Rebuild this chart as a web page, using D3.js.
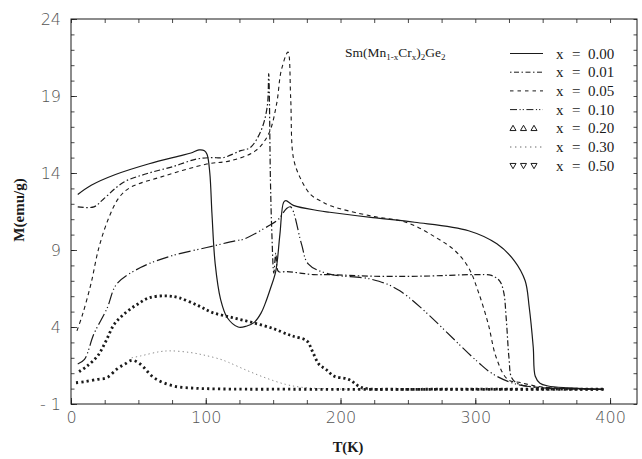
<!DOCTYPE html>
<html>
<head>
<meta charset="utf-8">
<script src="https://cdn.jsdelivr.net/npm/d3@7"></script>
<style>
  html, body { margin: 0; padding: 0; background: #fff; }
  svg { display: block; }
</style>
</head>
<body>
<svg id="chart" width="642" height="459"></svg>
<script>
// ---- Data: T in K, M in emu/g ----
const compositions = ["0.00", "0.01", "0.05", "0.10", "0.20", "0.30", "0.50"];

const t000 = [5, 15, 33, 58, 80, 89, 95, 99, 101, 103, 104.6, 107, 111, 116, 124, 130, 136, 141, 144, 148, 152, 155, 157.8, 159.5, 165, 184, 192, 224, 255, 295, 316, 329, 337, 340, 343, 344.5, 348, 354, 369, 395];
const m000 = [12.6, 13.2, 13.9, 14.6, 15.1, 15.3, 15.5, 15.45, 15.2, 14, 11.35, 8.1, 5.8, 4.6, 4.0, 4.05, 4.3, 4.9, 5.5, 6.5, 7.65, 10, 12.1, 12.2, 11.9, 11.55, 11.45, 11.1, 10.8, 10.25, 9.4, 8.3, 7.0, 5.3, 2.7, 0.8, 0.35, 0.17, 0.05, -0.05];

const t001 = [5, 17, 24, 39, 56, 75, 93, 104, 113, 126, 133, 141, 145.6, 146.7, 148, 149, 150.5, 152, 154, 160, 170, 180, 192, 223, 260, 300, 312, 318, 321, 323, 325, 327, 332, 345, 370, 395];
const m001 = [11.8, 11.8, 12.3, 13.4, 13.95, 14.4, 14.9, 15.0, 15.0, 15.45, 15.65, 16.75, 18.3, 20.45, 13.5, 10.2, 7.5, 8.8, 7.6, 7.6, 7.5, 7.4, 7.4, 7.3, 7.3, 7.4, 7.35, 7.0, 6.3, 4.5, 2.0, 0.7, 0.3, 0.1, 0, -0.05];

const t005 = [4.4, 8.7, 14.8, 20.7, 28.1, 35.6, 44, 69, 100.7, 118.5, 137, 146.7, 152.6, 156, 161, 163, 165, 170, 177.8, 185, 192.6, 223, 249, 271, 285, 295, 302, 309.6, 315.6, 324, 334, 350, 395];
const m005 = [3.75, 4.85, 6.8, 9.16, 11.1, 12.4, 13.06, 13.8, 14.58, 14.8, 15.45, 16.55, 18.5, 20.65, 21.85, 18.9, 15, 13.7, 12.6, 12.2, 11.87, 11.2, 10.79, 9.8, 8.95, 7.86, 6.35, 4.2, 2.0, 0.6, 0.38, 0.1, -0.05];

const t010 = [5, 10, 17, 26.7, 34, 51.6, 73.8, 100.7, 122, 128, 146.7, 154, 160, 163, 171, 176, 191, 223, 244, 301, 313, 330, 350, 395];
const m010 = [1.6, 1.9, 3.55, 5.2, 6.8, 7.86, 8.6, 9.16, 9.6, 9.7, 10.57, 11.0, 11.7, 11.8, 9.4, 8.1, 7.45, 7.1, 6.35, 1.8, 0.95, 0.3, 0.05, -0.05];

const t020 = [6, 12, 19.7, 26, 32.1, 40.7, 49.4, 58, 70.4, 80, 94.8, 104.9, 119.7, 134.6, 150, 160.5, 165, 175, 179, 184, 189, 195, 206, 216, 240, 270, 300, 340, 370, 396];
const m020 = [1.1, 1.47, 2.12, 3.1, 4.18, 4.94, 5.48, 5.9, 6.02, 5.9, 5.37, 4.94, 4.61, 4.29, 3.9, 3.53, 3.4, 3.1, 2.45, 1.58, 1.26, 0.82, 0.6, 0.06, -0.04, -0.04, -0.04, -0.04, -0.04, -0.04];

const t030 = [45, 51.6, 66, 74, 88.7, 100, 111, 117, 130, 144, 159, 170, 185, 220];
const m030 = [2.0, 2.12, 2.4, 2.45, 2.34, 2.15, 1.9, 1.7, 1.2, 0.71, 0.28, 0.1, 0.0, -0.05];

const t050 = [3.7, 10, 19.5, 26.6, 34, 40, 45.4, 51.6, 61.5, 76, 93, 110, 130, 160, 200, 250, 300, 350, 396];
const m050 = [0.38, 0.45, 0.6, 0.71, 1.26, 1.6, 1.84, 1.58, 0.71, 0.17, 0.02, -0.02, -0.04, -0.04, -0.05, -0.05, -0.05, -0.05, -0.05];

const xTickLabels = [0, 100, 200, 300, 400];
const yTickLabels = [-1, 4, 9, 14, 19, 24];

const seriesT = [t000, t001, t005, t010, t020, t030, t050];
const seriesM = [m000, m001, m005, m010, m020, m030, m050];

// ---- Styles ----
const ink = "#1a1a1a";
const styles = [
  { dash: null,                 legendDash: null,                 w: 1.2, color: ink },
  { dash: "6 2.5 1.5 2.5",      legendDash: "1.5 2.5 5 2.5",      w: 1.2, color: ink },
  { dash: "4 3.5",              legendDash: "3.5 4",              w: 1.1, color: ink },
  { dash: "12 3 1.2 2.5 1.2 3", legendDash: "7 2.5 1.2 2 1.2 2.5", w: 1.2, color: ink },
  { dash: "2.2 2.8",            legendDash: null, marker: "up",   w: 2.8, color: ink },
  { dash: "1.3 3",              legendDash: "1.4 3.6",            w: 1.0, color: "#8a8a8a" },
  { dash: "2.2 3.2",            legendDash: null, marker: "down", w: 2.8, color: ink }
];

// ---- Chart ----
const svg = d3.select("#chart");
const plot = { left: 71, right: 637, top: 19, bottom: 404 };

const x = d3.scaleLinear().domain([0, 420]).range([plot.left, plot.right]);
const y = d3.scaleLinear().domain([-1, 24]).range([plot.bottom, plot.top]);

const tickFont = "'DejaVu Sans', sans-serif";
const serif = "'Liberation Serif', 'Times New Roman', serif";

function noDomain(g) { g.select(".domain").remove(); }

// minor ticks (all four sides, pointing inward)
svg.append("g").attr("transform", `translate(0,${plot.bottom})`)
  .call(d3.axisBottom(x).tickValues(d3.range(0, 421, 25)).tickSize(-4).tickFormat(""))
  .call(noDomain);
svg.append("g").attr("transform", `translate(0,${plot.top})`)
  .call(d3.axisTop(x).tickValues(d3.range(0, 421, 25)).tickSize(-4).tickFormat(""))
  .call(noDomain);
svg.append("g").attr("transform", `translate(${plot.left},0)`)
  .call(d3.axisLeft(y).tickValues(d3.range(-1, 24.1, 1)).tickSize(-3.5).tickFormat(""))
  .call(noDomain);
svg.append("g").attr("transform", `translate(${plot.right},0)`)
  .call(d3.axisRight(y).tickValues(d3.range(-1, 24.1, 1)).tickSize(-3.5).tickFormat(""))
  .call(noDomain);

// labelled ticks
const xAxis = svg.append("g").attr("transform", `translate(0,${plot.bottom})`)
  .call(d3.axisBottom(x).tickValues(xTickLabels).tickSize(-6).tickPadding(8).tickFormat(d3.format("d")))
  .call(noDomain);
const yAxis = svg.append("g").attr("transform", `translate(${plot.left},0)`)
  .call(d3.axisLeft(y).tickValues(yTickLabels).tickSize(-6).tickPadding(10).tickFormat(d => d < 0 ? "- " + Math.abs(d) : d))
  .call(noDomain);

[xAxis, yAxis].forEach(g => {
  g.attr("font-family", tickFont).attr("font-size", 16).attr("font-weight", 200);
  g.selectAll("text").attr("fill", "#555");
});
svg.selectAll(".tick line").attr("stroke", ink).attr("stroke-width", 0.8);

// frame
svg.append("rect")
  .attr("x", plot.left).attr("y", plot.top)
  .attr("width", plot.right - plot.left).attr("height", plot.bottom - plot.top)
  .attr("fill", "none").attr("stroke", ink).attr("stroke-width", 1);

// curves
const line = d3.line()
  .x(d => x(d[0]))
  .y(d => y(d[1]))
  .curve(d3.curveCatmullRom.alpha(0.5));

const curves = svg.append("g").attr("fill", "none");
seriesT.forEach((ts, i) => {
  const pts = ts.map((t, k) => [t, seriesM[i][k]]);
  const s = styles[i];
  curves.append("path")
    .attr("d", line(pts))
    .attr("stroke", s.color)
    .attr("stroke-width", s.w)
    .attr("stroke-dasharray", s.dash)
    .attr("stroke-linejoin", "round");
});

// axis titles
svg.append("text")
  .attr("x", 348).attr("y", 452)
  .attr("text-anchor", "middle")
  .attr("font-family", serif).attr("font-weight", "bold").attr("font-size", 14.5)
  .attr("fill", ink)
  .text("T(K)");

svg.append("text")
  .attr("transform", "translate(24,210) rotate(-90)")
  .attr("text-anchor", "middle")
  .attr("font-family", serif).attr("font-weight", "bold").attr("font-size", 15)
  .attr("fill", ink)
  .text("M(emu/g)");

// formula
const formula = svg.append("text")
  .attr("x", 345).attr("y", 57)
  .attr("font-family", serif).attr("font-size", 13.5).attr("fill", ink);
[["Sm(Mn", 0], ["1-x", 3], ["Cr", -3], ["x", 3], [")", -3], ["2", 3], ["Ge", -3], ["2", 3]]
  .forEach(([txt, dy]) => {
    formula.append("tspan")
      .attr("dy", dy)
      .attr("font-size", dy > 0 ? 9 : 13.5)
      .text(txt);
  });

// legend
const legend = svg.append("g");
const triUp = d3.symbol().type(d3.symbolTriangle).size(16);
compositions.forEach((c, i) => {
  const cy = 53.5 + i * 18.7;
  const s = styles[i];
  if (s.marker) {
    [513, 523.5, 534].forEach(mx => {
      legend.append("path")
        .attr("d", triUp())
        .attr("transform", `translate(${mx},${cy + (s.marker === "up" ? 0.5 : -0.5)}) rotate(${s.marker === "up" ? 0 : 180})`)
        .attr("fill", "none").attr("stroke", ink).attr("stroke-width", 1);
    });
  } else {
    legend.append("line")
      .attr("x1", 510).attr("x2", 543)
      .attr("y1", cy).attr("y2", cy)
      .attr("stroke", s.color === ink ? ink : "#666")
      .attr("stroke-width", 1)
      .attr("stroke-dasharray", s.legendDash);
  }
  const row = legend.append("g")
    .attr("font-family", serif).attr("font-size", 15).attr("fill", ink);
  row.append("text").attr("x", 556).attr("y", cy + 5).text("x");
  row.append("text").attr("x", 572).attr("y", cy + 5).text("=");
  row.append("text").attr("x", 588).attr("y", cy + 5).text(c);
});
</script>
</body>
</html>
